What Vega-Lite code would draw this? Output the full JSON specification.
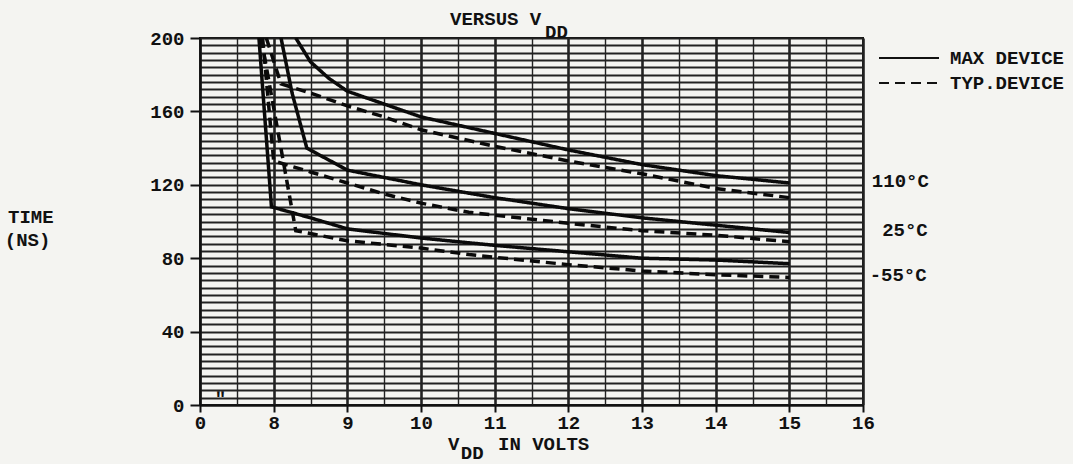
{
  "$schema": "https://vega.github.io/schema/vega-lite/v6.json",
  "width": 663,
  "height": 367,
  "autosize": {"type": "none"},
  "padding": {"left": 200, "top": 38, "right": 210, "bottom": 59},
  "background": "#f4f4f1",
  "config": {
    "view": {"stroke": "#111", "strokeWidth": 2},
    "font": "Liberation Mono",
    "text": {"font": "Liberation Mono", "fontSize": 19, "fontWeight": "bold", "color": "#111"}
  },
  "datasets": {
    "curves": [
      {"v": 8.3, "t": 200, "temp": "110", "type": "MAX DEVICE"},
      {"v": 8.5, "t": 187, "temp": "110", "type": "MAX DEVICE"},
      {"v": 8.75, "t": 178, "temp": "110", "type": "MAX DEVICE"},
      {"v": 9, "t": 171, "temp": "110", "type": "MAX DEVICE"},
      {"v": 9.5, "t": 164, "temp": "110", "type": "MAX DEVICE"},
      {"v": 10, "t": 157, "temp": "110", "type": "MAX DEVICE"},
      {"v": 11, "t": 148, "temp": "110", "type": "MAX DEVICE"},
      {"v": 12, "t": 139, "temp": "110", "type": "MAX DEVICE"},
      {"v": 13, "t": 131, "temp": "110", "type": "MAX DEVICE"},
      {"v": 14, "t": 125, "temp": "110", "type": "MAX DEVICE"},
      {"v": 15, "t": 121, "temp": "110", "type": "MAX DEVICE"},
      {"v": 7.9, "t": 200, "temp": "110", "type": "TYP.DEVICE"},
      {"v": 8.1, "t": 175, "temp": "110", "type": "TYP.DEVICE"},
      {"v": 8.5, "t": 170, "temp": "110", "type": "TYP.DEVICE"},
      {"v": 9, "t": 163, "temp": "110", "type": "TYP.DEVICE"},
      {"v": 9.5, "t": 157, "temp": "110", "type": "TYP.DEVICE"},
      {"v": 10, "t": 150, "temp": "110", "type": "TYP.DEVICE"},
      {"v": 11, "t": 141, "temp": "110", "type": "TYP.DEVICE"},
      {"v": 12, "t": 133, "temp": "110", "type": "TYP.DEVICE"},
      {"v": 13, "t": 126, "temp": "110", "type": "TYP.DEVICE"},
      {"v": 14, "t": 118, "temp": "110", "type": "TYP.DEVICE"},
      {"v": 15, "t": 113, "temp": "110", "type": "TYP.DEVICE"},
      {"v": 8.1, "t": 200, "temp": "25", "type": "MAX DEVICE"},
      {"v": 8.25, "t": 170, "temp": "25", "type": "MAX DEVICE"},
      {"v": 8.45, "t": 140, "temp": "25", "type": "MAX DEVICE"},
      {"v": 9, "t": 128, "temp": "25", "type": "MAX DEVICE"},
      {"v": 10, "t": 120, "temp": "25", "type": "MAX DEVICE"},
      {"v": 11, "t": 113, "temp": "25", "type": "MAX DEVICE"},
      {"v": 12, "t": 107, "temp": "25", "type": "MAX DEVICE"},
      {"v": 13, "t": 102, "temp": "25", "type": "MAX DEVICE"},
      {"v": 14, "t": 98, "temp": "25", "type": "MAX DEVICE"},
      {"v": 15, "t": 94, "temp": "25", "type": "MAX DEVICE"},
      {"v": 7.85, "t": 200, "temp": "25", "type": "TYP.DEVICE"},
      {"v": 8.0, "t": 133, "temp": "25", "type": "TYP.DEVICE"},
      {"v": 8.5, "t": 127, "temp": "25", "type": "TYP.DEVICE"},
      {"v": 9, "t": 121, "temp": "25", "type": "TYP.DEVICE"},
      {"v": 9.5, "t": 115, "temp": "25", "type": "TYP.DEVICE"},
      {"v": 10, "t": 110, "temp": "25", "type": "TYP.DEVICE"},
      {"v": 10.65, "t": 105, "temp": "25", "type": "TYP.DEVICE"},
      {"v": 11, "t": 103.5, "temp": "25", "type": "TYP.DEVICE"},
      {"v": 12, "t": 99, "temp": "25", "type": "TYP.DEVICE"},
      {"v": 13, "t": 95, "temp": "25", "type": "TYP.DEVICE"},
      {"v": 14, "t": 92.5, "temp": "25", "type": "TYP.DEVICE"},
      {"v": 15, "t": 89, "temp": "25", "type": "TYP.DEVICE"},
      {"v": 7.8, "t": 200, "temp": "-55", "type": "MAX DEVICE"},
      {"v": 7.97, "t": 108, "temp": "-55", "type": "MAX DEVICE"},
      {"v": 8.5, "t": 102, "temp": "-55", "type": "MAX DEVICE"},
      {"v": 9, "t": 96, "temp": "-55", "type": "MAX DEVICE"},
      {"v": 10, "t": 91, "temp": "-55", "type": "MAX DEVICE"},
      {"v": 11, "t": 87, "temp": "-55", "type": "MAX DEVICE"},
      {"v": 12, "t": 83.5, "temp": "-55", "type": "MAX DEVICE"},
      {"v": 13, "t": 80, "temp": "-55", "type": "MAX DEVICE"},
      {"v": 14, "t": 79, "temp": "-55", "type": "MAX DEVICE"},
      {"v": 15, "t": 77, "temp": "-55", "type": "MAX DEVICE"},
      {"v": 7.83, "t": 200, "temp": "-55", "type": "TYP.DEVICE"},
      {"v": 8.3, "t": 95, "temp": "-55", "type": "TYP.DEVICE"},
      {"v": 9, "t": 89.5, "temp": "-55", "type": "TYP.DEVICE"},
      {"v": 10, "t": 85.5, "temp": "-55", "type": "TYP.DEVICE"},
      {"v": 10.65, "t": 82, "temp": "-55", "type": "TYP.DEVICE"},
      {"v": 11, "t": 80.5, "temp": "-55", "type": "TYP.DEVICE"},
      {"v": 12, "t": 76.5, "temp": "-55", "type": "TYP.DEVICE"},
      {"v": 13, "t": 73, "temp": "-55", "type": "TYP.DEVICE"},
      {"v": 14, "t": 71, "temp": "-55", "type": "TYP.DEVICE"},
      {"v": 15, "t": 69.5, "temp": "-55", "type": "TYP.DEVICE"}
    ],
    "notes": [
      {"v": 10.394, "t": 210.4, "label": "VERSUS V"},
      {"v": 11.683, "t": 203.3, "label": "DD"},
      {"v": 10.366, "t": -21.0, "label": "V"},
      {"v": 10.54, "t": -26.3, "label": "DD"},
      {"v": 11.045, "t": -21.0, "label": "IN VOLTS"},
      {"v": 4.394, "t": 102.5, "label": "TIME"},
      {"v": 4.35, "t": 89.9, "label": "(NS)"},
      {"v": 16.12, "t": 122, "label": "110°C"},
      {"v": 16.26, "t": 95.4, "label": "25°C"},
      {"v": 16.09, "t": 70.8, "label": "-55°C"},
      {"v": 7.2, "t": 3.5, "label": "ʺ"}
    ]
  },
  "resolve": {"axis": {"x": "independent", "y": "independent"}},
  "layer": [
    {
      "data": {"name": "curves"},
      "mark": {"type": "line", "color": "#0a0a0a", "strokeWidth": 3.5, "clip": true},
      "encoding": {
        "x": {
          "field": "v",
          "type": "quantitative",
          "scale": {"domain": [7, 16], "nice": false, "zero": false},
          "axis": {
            "title": null,
            "values": [7, 7.5, 8, 8.5, 9, 9.5, 10, 10.5, 11, 11.5, 12, 12.5, 13, 13.5, 14, 14.5, 15, 15.5, 16],
            "labelExpr": "datum.value == 7 ? '0' : (datum.value % 1 == 0 ? '' + datum.value : '')",
            "labelOverlap": false,
            "labelFlush": false,
            "labelFont": "Liberation Mono",
            "labelFontSize": 19,
            "labelFontWeight": "bold",
            "labelColor": "#111",
            "labelPadding": 1,
            "domainColor": "#111",
            "domainWidth": 2,
            "tickColor": "#111",
            "tickSize": 7,
            "tickWidth": 2,
            "tickOpacity": {"condition": {"test": "datum.value % 1 == 0", "value": 1}, "value": 0},
            "grid": true,
            "gridColor": "#222",
            "gridOpacity": 1,
            "gridWidth": {"condition": {"test": "datum.value % 1 == 0", "value": 2.6}, "value": 1.4}
          }
        },
        "y": {
          "field": "t",
          "type": "quantitative",
          "scale": {"domain": [0, 200], "nice": false},
          "axis": {
            "title": null,
            "values": [0, 4, 8, 12, 16, 20, 24, 28, 32, 36, 40, 44, 48, 52, 56, 60, 64, 68, 72, 76, 80, 84, 88, 92, 96, 100, 104, 108, 112, 116, 120, 124, 128, 132, 136, 140, 144, 148, 152, 156, 160, 164, 168, 172, 176, 180, 184, 188, 192, 196, 200],
            "labelExpr": "datum.value % 40 == 0 ? '' + datum.value : ''",
            "labelOverlap": false,
            "labelFlush": false,
            "labelFont": "Liberation Mono",
            "labelFontSize": 19,
            "labelFontWeight": "bold",
            "labelColor": "#111",
            "labelPadding": 6,
            "domainColor": "#111",
            "domainWidth": 2,
            "tickColor": "#111",
            "tickSize": 10,
            "tickWidth": 2,
            "tickOpacity": {"condition": {"test": "datum.value % 40 == 0", "value": 1}, "value": 0},
            "grid": true,
            "gridColor": "#222",
            "gridOpacity": 1,
            "gridWidth": 2.2
          }
        },
        "detail": {"field": "temp"},
        "strokeDash": {
          "field": "type",
          "type": "nominal",
          "scale": {"domain": ["MAX DEVICE", "TYP.DEVICE"], "range": [[1, 0], [10, 6]]},
          "legend": {
            "title": null,
            "orient": "none",
            "legendX": 698,
            "legendY": 9,
            "symbolType": "M-3,0H3",
            "symbolSize": 400,
            "symbolStrokeWidth": 2,
            "symbolStrokeColor": "#111",
            "labelFont": "Liberation Mono",
            "labelFontSize": 19,
            "labelFontWeight": "bold",
            "labelColor": "#111",
            "labelOffset": 30,
            "rowPadding": 4
          }
        }
      }
    },
    {
      "data": {"name": "notes"},
      "mark": {"type": "text", "align": "left", "baseline": "middle"},
      "encoding": {
        "x": {"field": "v", "type": "quantitative", "axis": null},
        "y": {"field": "t", "type": "quantitative", "axis": null},
        "text": {"field": "label"}
      }
    }
  ]
}
